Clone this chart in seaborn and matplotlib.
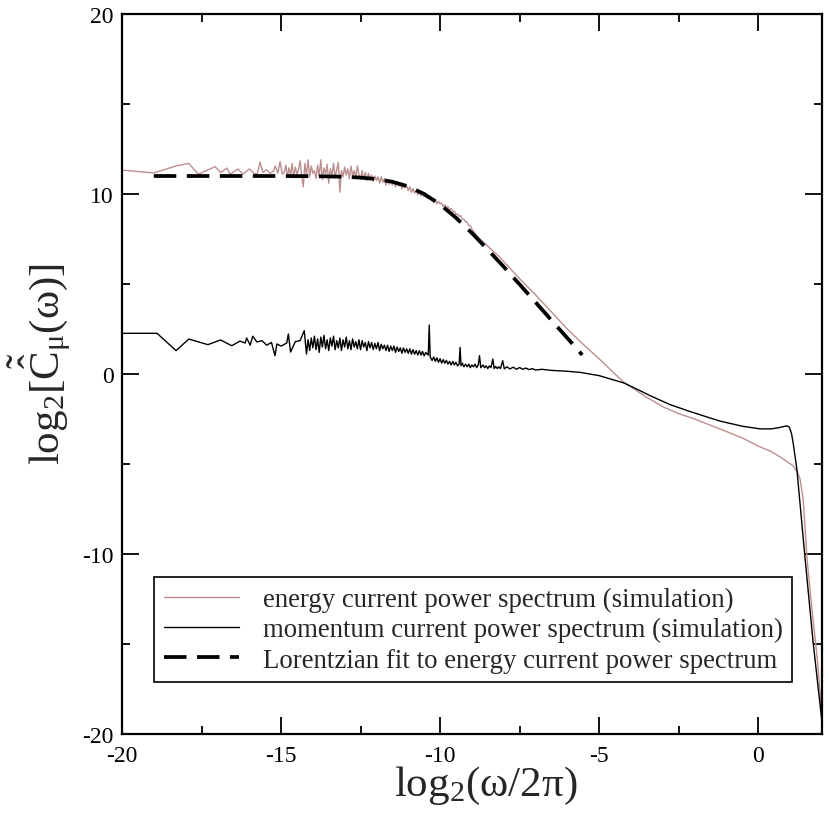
import numpy as np
import pandas as pd
import seaborn as sns
import matplotlib
matplotlib.use("Agg")
import matplotlib.pyplot as plt
from matplotlib.ticker import MultipleLocator

# ---------------- data ----------------
energy_x = [-20.0, -19.0, -18.3, -17.9, -17.6, -17.07, -16.9, -16.7, -16.6, -16.35, -16.2, -16.0,
            -15.85, -15.75, -15.66, -15.57, -15.45, -15.35, -15.25, -15.18, -15.1, -15.03, -14.96,
            -14.90, -14.85, -14.80, -14.75, -14.70, -14.65, -14.60, -14.55, -14.50, -14.45,
            -14.40, -14.35, -14.30, -14.25, -14.20, -14.15, -14.10, -14.05, -14.00, -13.95,
            -13.90, -13.85, -13.80, -13.75, -13.70, -13.65, -13.60, -13.55, -13.50, -13.45,
            -13.40, -13.35, -13.30, -13.25, -13.20, -13.15, -13.10, -13.05, -13.00, -12.95,
            -12.90, -12.85, -12.80, -12.75, -12.70, -12.65, -12.60, -12.55, -12.50, -12.45,
            -12.40, -12.35, -12.30, -12.25, -12.20, -12.15, -12.10, -12.05, -12.00, -11.95,
            -11.90, -11.85, -11.80, -11.75, -11.70, -11.65, -11.60, -11.55, -11.50, -11.45,
            -11.40, -11.35, -11.30, -11.25, -11.20, -11.15, -11.10, -11.05, -11.00, -10.95,
            -10.90, -10.85, -10.80, -10.75, -10.70, -10.65, -10.60, -10.55, -10.50, -10.45,
            -10.40, -10.35, -10.30, -10.25, -10.20, -10.15, -10.10, -10.05, -10.00, -9.95,
            -9.90, -9.85, -9.80, -9.75, -9.70, -9.65, -9.60, -9.55, -9.50, -9.45,
            -9.40, -9.35, -9.30, -9.25, -9.20, -9.15, -9.10, -9.05, -9.00,
            -8.8, -8.5, -8.12, -7.5, -7.0, -6.5,
            -6.0, -5.5, -5.0, -4.5, -4.22, -3.5, -2.96, -2.5, -2.0, -1.19, -0.5, 0.0, 0.4, 0.69,
            1.1, 1.22, 1.32, 1.42, 1.54, 1.7, 1.86, 2.0]
energy_y = [11.33, 11.17, 11.56, 11.70, 11.10, 11.52, 11.20, 11.44, 11.10, 11.39, 11.10, 11.39,
            11.15, 11.10, 11.78, 11.20, 11.35, 11.15, 11.25, 11.55, 11.15, 11.80, 11.10,
            11.20, 11.60, 10.95, 11.45, 11.05, 11.70, 10.90, 11.50, 11.10, 11.35,
            11.85, 11.00, 10.40, 11.70, 11.05, 11.90, 10.95, 11.55, 11.15, 11.30,
            10.85, 11.60, 11.00, 11.90, 10.80, 11.45, 11.10, 11.65, 10.60, 11.40,
            11.00, 11.70, 10.90, 11.35, 11.75, 10.10, 11.30, 10.95, 11.50, 11.05,
            11.40, 10.85, 11.55, 11.00, 11.30, 10.90, 11.57, 11.05, 10.80, 11.30,
            10.85, 11.20, 10.75, 11.15, 10.80, 11.05, 10.70, 11.00, 10.75, 10.95,
            10.60, 10.95, 10.65, 10.85, 10.50, 10.80, 10.55, 10.75, 10.50, 10.70,
            10.40, 10.65, 10.45, 10.60, 10.30, 10.50, 10.35, 10.45, 10.20, 10.40,
            10.10, 10.30, 10.05, 10.20, 9.95, 10.15, 9.90, 10.05, 9.85, 9.95,
            9.75, 9.90, 9.70, 9.80, 9.60, 9.70, 9.45, 9.60, 9.45, 9.50,
            9.30, 9.40, 9.25, 9.30, 9.10, 9.20, 9.00, 9.05, 8.85, 8.90,
            8.75, 8.80, 8.60, 8.60, 8.45, 8.45, 8.25, 8.25, 8.05,
            7.60, 7.10, 6.48, 5.30, 4.40, 3.45,
            2.50, 1.65, 0.85, 0.00, -0.46, -1.30, -1.85, -2.20, -2.50, -3.06, -3.55, -4.00, -4.30, -4.60,
            -5.10, -5.40, -5.83, -7.00, -10.30, -13.20, -15.80, -18.80]

momentum_x = [-20.0, -18.9, -18.3, -17.9, -17.3, -16.9, -16.55, -16.29, -16.13, -16.08, -15.97,
              -15.89, -15.76, -15.6, -15.45, -15.3, -15.19, -15.13, -15.0, -14.82, -14.77, -14.7,
              -14.55, -14.4, -14.27, -14.2,
              -14.15, -14.10, -14.05, -14.00, -13.95, -13.90, -13.85, -13.80, -13.75, -13.70,
              -13.65, -13.60, -13.55, -13.50, -13.45, -13.40, -13.35, -13.30, -13.25, -13.20,
              -13.15, -13.10, -13.05, -13.00, -12.95, -12.90, -12.85, -12.80, -12.75, -12.70,
              -12.65, -12.60, -12.55, -12.50, -12.45, -12.40, -12.35, -12.30, -12.25, -12.20,
              -12.15, -12.10, -12.05, -12.00, -11.95, -11.90, -11.85, -11.80, -11.75, -11.70,
              -11.65, -11.60, -11.55, -11.50, -11.45, -11.40, -11.35, -11.30, -11.25, -11.20,
              -11.15, -11.10, -11.05, -11.00, -10.95, -10.90, -10.85, -10.80, -10.75, -10.70,
              -10.65, -10.60, -10.55, -10.50, -10.45, -10.40,
              -10.37, -10.34, -10.31, -10.25, -10.20, -10.15, -10.10, -10.05, -10.00, -9.95,
              -9.90, -9.85, -9.80, -9.75, -9.70, -9.65, -9.60, -9.55, -9.50, -9.45, -9.40,
              -9.37, -9.34, -9.30, -9.25, -9.20, -9.15, -9.10, -9.05, -9.00, -8.95, -8.90,
              -8.85, -8.80, -8.76, -8.72, -8.65, -8.60, -8.55, -8.50, -8.45, -8.40, -8.34,
              -8.30, -8.25, -8.20, -8.15, -8.10, -8.03, -7.98, -7.9, -7.8, -7.7, -7.6, -7.5,
              -7.4, -7.3, -7.2, -7.1, -7.0, -6.8, -6.5, -6.0,
              -5.6, -5.0, -4.5, -4.22, -3.8, -3.4, -2.77, -2.2, -1.5, -1.19, -0.5, 0.06, 0.4,
              0.6, 0.8, 0.91, 0.98, 1.05, 1.1, 1.22, 1.48, 1.73, 2.0]
momentum_y = [2.26, 2.26, 1.30, 1.94, 1.63, 1.89, 1.57, 1.83, 1.72, 2.00, 1.60,
              2.10, 1.78, 1.85, 1.60, 1.75, 1.02, 1.67, 1.55, 1.72, 2.22, 1.22,
              1.80, 1.85, 2.41, 1.11,
              1.90, 1.30, 2.00, 1.45, 2.10, 1.35, 1.95, 1.20, 2.05, 1.50,
              2.15, 1.40, 1.90, 1.30, 2.00, 1.55, 2.10, 1.35, 1.85, 1.45,
              2.00, 1.30, 1.90, 1.50, 2.05, 1.40, 1.85, 1.35, 1.95, 1.50,
              1.80, 1.40, 1.90, 1.35, 1.85, 1.50, 1.75, 1.30, 1.80, 1.45,
              1.75, 1.35, 1.70, 1.40, 1.75, 1.30, 1.65, 1.40, 1.60, 1.30,
              1.60, 1.25, 1.55, 1.30, 1.55, 1.20, 1.50, 1.25, 1.45, 1.15,
              1.45, 1.20, 1.40, 1.15, 1.40, 1.10, 1.35, 1.10, 1.30, 1.05,
              1.30, 1.05, 1.25, 1.00, 1.20, 1.10,
              1.05, 2.72, 0.95, 0.75, 0.95, 0.70, 0.90, 0.65, 0.85, 0.60,
              0.80, 0.60, 0.75, 0.55, 0.70, 0.50, 0.70, 0.50, 0.65, 0.45, 0.55,
              1.48, 0.45, 0.60, 0.40, 0.55, 0.40, 0.55, 0.35, 0.50, 0.40, 0.55,
              0.35, 0.50, 1.02, 0.35, 0.50, 0.35, 0.45, 0.30, 0.45, 0.35, 0.83,
              0.30, 0.42, 0.30, 0.40, 0.30, 0.74, 0.28, 0.40, 0.28, 0.38, 0.26, 0.36,
              0.26, 0.33, 0.24, 0.30, 0.22, 0.26, 0.20, 0.15,
              0.09, -0.09, -0.35, -0.50, -0.85, -1.20, -1.70, -2.05, -2.45, -2.62, -2.90, -3.05, -3.05,
              -3.00, -2.92, -2.88, -2.95, -3.30, -3.80, -5.30, -10.30, -14.90, -19.20]

fit_x = [-19.0, -17.0, -15.0, -14.0, -13.0, -12.5, -12.0, -11.5, -11.0, -10.5, -10.0, -9.5,
         -9.0, -8.5, -8.0, -7.5, -7.0, -6.5, -6.0, -5.53]
fit_y = [11.0, 11.0, 11.0, 10.99, 10.96, 10.91, 10.83, 10.68, 10.42, 10.0, 9.42, 8.68,
         7.83, 6.91, 5.96, 4.98, 3.99, 2.99, 2.0, 1.06]

labels = ["energy current power spectrum (simulation)",
          "momentum current power spectrum (simulation)",
          "Lorentzian fit to energy current power spectrum"]

# ---------------- style ----------------
sns.set_theme(style="ticks")
plt.rcParams["font.family"] = ["Liberation Serif", "DejaVu Serif"]
plt.rcParams["mathtext.fontset"] = "custom"
plt.rcParams["mathtext.rm"] = "Liberation Serif"
plt.rcParams["mathtext.it"] = "Liberation Serif:italic"
plt.rcParams["mathtext.bf"] = "Liberation Serif:bold"
plt.rcParams["axes.unicode_minus"] = False

fig = plt.figure(figsize=(8.3, 8.2), dpi=100)
ax = fig.add_axes([0.147, 0.1037, 0.843, 0.878])

df_e = pd.DataFrame({"x": energy_x, "y": energy_y})
df_m = pd.DataFrame({"x": momentum_x, "y": momentum_y})
df_f = pd.DataFrame({"x": fit_x, "y": fit_y})

sns.lineplot(data=df_e, x="x", y="y", ax=ax, color="#bc8f8f", lw=1.0,
             sort=False, estimator=None, label=labels[0])
sns.lineplot(data=df_m, x="x", y="y", ax=ax, color="black", lw=1.0,
             sort=False, estimator=None, label=labels[1])
sns.lineplot(data=df_f, x="x", y="y", ax=ax, color="black", lw=2.7,
             linestyle=(0, (6.0, 2.8)), sort=False, estimator=None, label=labels[2])

ax.set_xlim(-20, 2)
ax.set_ylim(-20, 20)
ax.xaxis.set_major_locator(MultipleLocator(5))
ax.xaxis.set_minor_locator(MultipleLocator(2.5))
ax.yaxis.set_major_locator(MultipleLocator(10))
ax.yaxis.set_minor_locator(MultipleLocator(5))
ax.tick_params(which="both", direction="in", top=True, right=True, width=1.3,
               colors="black", labelsize=17)
ax.tick_params(which="major", length=12)
ax.tick_params(axis="x", which="major", pad=8)
ax.tick_params(axis="y", which="major", pad=6)
ax.tick_params(which="minor", length=6)
for s in ax.spines.values():
    s.set_linewidth(1.6)
    s.set_color("black")

ax.set_xlabel("log$_2$(ω/2π)", fontsize=31)
ax.set_ylabel(r"log$_2$[$\tilde{\hat{\mathrm{C}}}_{\mathrm{\mu}}$(ω)]", fontsize=31)
ax.xaxis.set_label_coords(0.52, -0.042)
ax.yaxis.set_label_coords(-0.07, 0.515)

leg = ax.legend(loc="lower left", bbox_to_anchor=(0.046, 0.072), fontsize=19.3,
                frameon=True, fancybox=False, handlelength=2.8, handletextpad=0.9,
                borderpad=0.35, labelspacing=0.2, borderaxespad=0)
leg.get_frame().set_edgecolor("black")
leg.get_frame().set_linewidth(1.2)
leg.get_frame().set_alpha(1)

fig.savefig("out.png", dpi=100)
